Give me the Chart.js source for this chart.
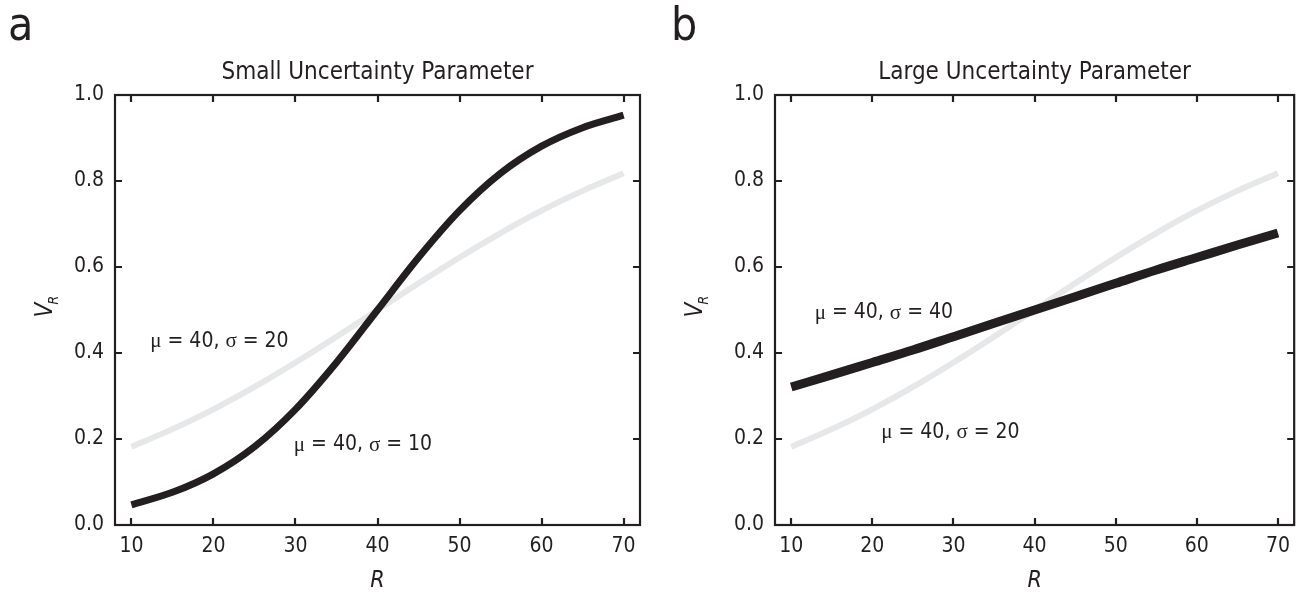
<!DOCTYPE html>
<html>
<head>
<meta charset="utf-8">
<script src="https://cdn.jsdelivr.net/npm/chart.js@4/dist/chart.umd.min.js"></script>
<style>
html, body { margin: 0; padding: 0; background: #fff; }
.panel { position: absolute; top: 0; height: 593px; }
#panelA { left: 0; width: 650px; }
#panelB { left: 650px; width: 649px; }
</style>
</head>
<body>
<div class="panel" id="panelA"><canvas id="chartA"></canvas></div>
<div class="panel" id="panelB"><canvas id="chartB"></canvas></div>
<script>
// values (R on x, V_R on y)
const rValues = [10, 15, 20, 25, 30, 35, 40, 45, 50, 55, 60, 65, 70];
const sigma10 = [0.047, 0.076, 0.119, 0.182, 0.269, 0.378, 0.500, 0.622, 0.731, 0.818, 0.881, 0.924, 0.953];
const sigma20 = [0.182, 0.223, 0.269, 0.321, 0.378, 0.438, 0.500, 0.562, 0.622, 0.679, 0.731, 0.777, 0.818];
const sigma40 = [0.321, 0.349, 0.378, 0.407, 0.438, 0.469, 0.500, 0.531, 0.562, 0.593, 0.622, 0.651, 0.679];

const xTicks = [10, 20, 30, 40, 50, 60, 70];
const yTicks = [0.0, 0.2, 0.4, 0.6, 0.8, 1.0];

const INK = '#231f20';
const GRAY = '#e6e7e8';
const SANS = '"Liberation Sans Narrow", "DejaVu Sans Condensed", Roboto, sans-serif';
const SERIF = '"Liberation Serif", "DejaVu Serif", serif';

function points(ys) {
    return rValues.map((x, i) => ({ x: x, y: ys[i] }));
}

// draw a label with greek letters in a serif face, like the original
function drawMixed(ctx, parts, x, y, size) {
    ctx.textBaseline = 'middle';
    ctx.textAlign = 'left';
    parts.forEach(p => {
        ctx.font = size + 'px ' + (p[1] ? SERIF : SANS);
        ctx.fillText(p[0], x, y);
        x += ctx.measureText(p[0]).width;
    });
}

const framePlugin = {
    id: 'frame',
    afterDraw(chart, args, opts) {
        const ctx = chart.ctx;
        const a = chart.chartArea;
        const xs = chart.scales.x, ys = chart.scales.y;
        ctx.save();
        ctx.strokeStyle = INK;
        ctx.fillStyle = INK;
        ctx.lineWidth = 2.2;
        ctx.strokeRect(a.left, a.top, a.right - a.left, a.bottom - a.top);
        ctx.beginPath();
        xTicks.forEach(v => {
            const px = Math.round(xs.getPixelForValue(v));
            ctx.moveTo(px, a.bottom); ctx.lineTo(px, a.bottom - 7);
            ctx.moveTo(px, a.top); ctx.lineTo(px, a.top + 7);
        });
        yTicks.forEach(v => {
            const py = Math.round(ys.getPixelForValue(v));
            ctx.moveTo(a.left, py); ctx.lineTo(a.left + 7, py);
            ctx.moveTo(a.right, py); ctx.lineTo(a.right - 7, py);
        });
        ctx.stroke();

        // panel letter
        ctx.textAlign = 'left';
        ctx.textBaseline = 'alphabetic';
        ctx.font = '46px ' + SANS;
        ctx.fillText(opts.letter, opts.letterX, 40);

        // title
        ctx.textAlign = 'center';
        ctx.font = '24px ' + SANS;
        ctx.fillText(opts.title, (a.left + a.right) / 2, 79);

        // x axis title
        ctx.font = 'italic 23px ' + SANS;
        ctx.fillText('R', (a.left + a.right) / 2, 587);

        // y axis title V_R
        ctx.save();
        ctx.translate(opts.yTitleX, (a.top + a.bottom) / 2);
        ctx.rotate(-Math.PI / 2);
        ctx.textAlign = 'left';
        ctx.font = 'italic 24px ' + SANS;
        const vw = ctx.measureText('V').width;
        ctx.fillText('V', -vw / 2, 0);
        ctx.font = 'italic 14px ' + SANS;
        ctx.fillText('R', vw / 2 - 2, 6);
        ctx.restore();

        // curve labels
        opts.notes.forEach(n => {
            drawMixed(ctx, [['\u03bc', true], [' = 40, ', false], ['\u03c3', true], [' = ' + n.text, false]],
                xs.getPixelForValue(n.x), ys.getPixelForValue(n.y), 21);
        });
        ctx.restore();
    }
};

function makePanel(id, cfg) {
    return new Chart(document.getElementById(id), {
        type: 'line',
        data: {
            datasets: cfg.series.map(s => ({
                data: points(s.values),
                borderColor: s.color,
                borderWidth: s.width,
                pointRadius: 0,
                cubicInterpolationMode: 'monotone',
                fill: false
            }))
        },
        options: {
            responsive: true,
            maintainAspectRatio: false,
            animation: false,
            layout: { padding: { top: 95, right: cfg.padRight, left: 0, bottom: 0 } },
            plugins: {
                legend: { display: false },
                tooltip: { enabled: false },
                frame: cfg.frame
            },
            scales: {
                x: {
                    type: 'linear',
                    min: 8,
                    max: 72,
                    afterBuildTicks: s => { s.ticks = xTicks.map(v => ({ value: v })); },
                    afterFit: s => { s.height = 68; },
                    grid: { display: false, drawTicks: false },
                    border: { display: false },
                    ticks: { color: INK, padding: 9, font: { family: SANS, size: 21 } }
                },
                y: {
                    min: 0,
                    max: 1,
                    afterBuildTicks: s => { s.ticks = yTicks.map(v => ({ value: v })); },
                    afterFit: s => { s.width = cfg.yWidth; },
                    grid: { display: false, drawTicks: false },
                    border: { display: false },
                    ticks: { color: INK, padding: 11, font: { family: SANS, size: 21 },
                        callback: v => v.toFixed(1) }
                }
            }
        },
        plugins: [framePlugin]
    });
}

makePanel('chartA', {
    padRight: 10,
    yWidth: 115,
    series: [
        { values: sigma10, color: INK, width: 7 },
        { values: sigma20, color: GRAY, width: 6 }
    ],
    frame: {
        letter: 'a', letterX: 8, title: 'Small Uncertainty Parameter', yTitleX: 52,
        notes: [ { text: '20', x: 12.3, y: 0.426 }, { text: '10', x: 29.8, y: 0.186 } ]
    }
});

makePanel('chartB', {
    padRight: 1,
    yWidth: 125,
    series: [
        { values: sigma40, color: INK, width: 9 },
        { values: sigma20, color: GRAY, width: 6 }
    ],
    frame: {
        letter: 'b', letterX: 21, title: 'Large Uncertainty Parameter', yTitleX: 52,
        notes: [ { text: '40', x: 12.9, y: 0.493 }, { text: '20', x: 21.1, y: 0.216 } ]
    }
});
</script>
</body>
</html>
